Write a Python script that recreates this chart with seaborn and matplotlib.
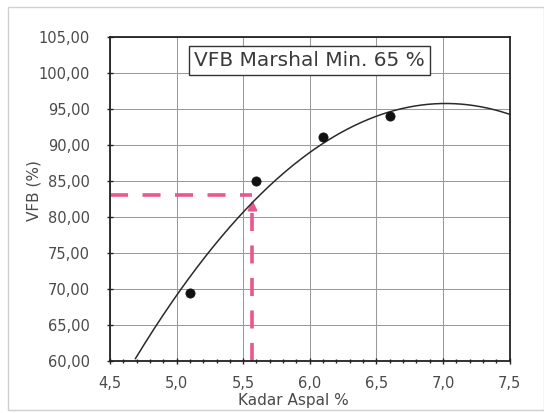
import numpy as np
import pandas as pd
import matplotlib
matplotlib.use("Agg")
import matplotlib.pyplot as plt
from matplotlib.patches import Rectangle
from matplotlib.ticker import MultipleLocator, FuncFormatter
import seaborn as sns

# Measured VFB values against asphalt content
kadar_aspal = [5.1, 5.6, 6.1, 6.6]
vfb = [69.5, 85.0, 91.1, 94.0]

# Polynomial trendline coefficients (highest power first)
trend_coef = [-6.54, 91.82, -226.5]

# Reading at the design asphalt content
kadar_baca = 5.57
vfb_baca = 83.0

x_ticks = [4.5, 5.0, 5.5, 6.0, 6.5, 7.0, 7.5]
y_ticks = [60, 65, 70, 75, 80, 85, 90, 95, 100, 105]

sns.set_theme(style="white")
plt.rcParams["font.family"] = ["DejaVu Sans"]

fig = plt.figure(figsize=(5.44, 4.13), dpi=100)
ax = fig.add_axes([0.202, 0.126, 0.735, 0.784])

# trendline
xs = np.linspace(4.5, 7.5, 300)
ys = np.polyval(trend_coef, xs)
curve = pd.DataFrame({"x": xs, "y": ys})
curve = curve[curve["y"] >= 60]
sns.lineplot(data=curve, x="x", y="y", ax=ax, color="#2a2a2a", lw=1.1, zorder=3)

# data points
pts = pd.DataFrame({"kadar": kadar_aspal, "vfb": vfb})
sns.scatterplot(data=pts, x="kadar", y="vfb", ax=ax, color="#111111",
                s=44, edgecolor="#111111", zorder=4)

# reading lines
pink = "#e8588c"
ax.plot([4.5, kadar_baca], [vfb_baca, vfb_baca], color=pink, lw=2.6,
        dashes=(5, 4), zorder=2)
ax.plot([kadar_baca, kadar_baca], [60, vfb_baca - 2.0], color=pink, lw=2.6,
        dashes=(5, 4), zorder=2)
ax.annotate("", xy=(kadar_baca, vfb_baca - 0.3), xytext=(kadar_baca, vfb_baca - 2.4),
            arrowprops=dict(arrowstyle="-|>", color=pink, lw=1.5,
                            mutation_scale=14), zorder=2)

ax.set_xlim(4.5, 7.5)
ax.set_ylim(60, 105)
ax.set_xticks(x_ticks)
ax.set_yticks(y_ticks)
ax.xaxis.set_minor_locator(MultipleLocator(0.1))
ax.xaxis.set_major_formatter(FuncFormatter(lambda v, p: f"{v:.1f}".replace(".", ",")))
ax.yaxis.set_major_formatter(FuncFormatter(lambda v, p: f"{v:.2f}".replace(".", ",")))
ax.grid(True, which="major", color="#9a9a9a", lw=0.75)
ax.set_axisbelow(True)

for s in ax.spines.values():
    s.set_visible(True)
    s.set_color("#222222")
    s.set_linewidth(1.3)

ax.tick_params(axis="both", which="major", direction="inout", length=5,
               width=1.0, colors="#222222", labelsize=10.5, labelcolor="#4a4a4a",
               bottom=True, left=True)
ax.tick_params(axis="x", which="major", pad=8)
ax.tick_params(axis="y", which="major", pad=12)
ax.tick_params(axis="x", which="minor", direction="inout", length=3.5,
               width=1.0, colors="#222222", bottom=True)

ax.set_xlabel("Kadar Aspal %", fontsize=11, color="#4a4a4a")
ax.set_ylabel("VFB (%)", fontsize=11, color="#4a4a4a")
ax.xaxis.set_label_coords(0.46, -0.1)
ax.yaxis.set_label_coords(-0.17, 0.525)

ax.text(6.0, 101.7, "VFB Marshal Min. 65 %", ha="center", va="center",
        fontsize=14.5, color="#3a3a3a", zorder=5,
        bbox=dict(boxstyle="square,pad=0.25", fc="white", ec="#333333", lw=1.0))

# chart frame
fig.patches.append(Rectangle((8 / 544, 3 / 413), 536 / 544, 403 / 413,
                             transform=fig.transFigure, fill=False,
                             ec="#d0d0d0", lw=1.0))

fig.savefig("out.png", dpi=100)
